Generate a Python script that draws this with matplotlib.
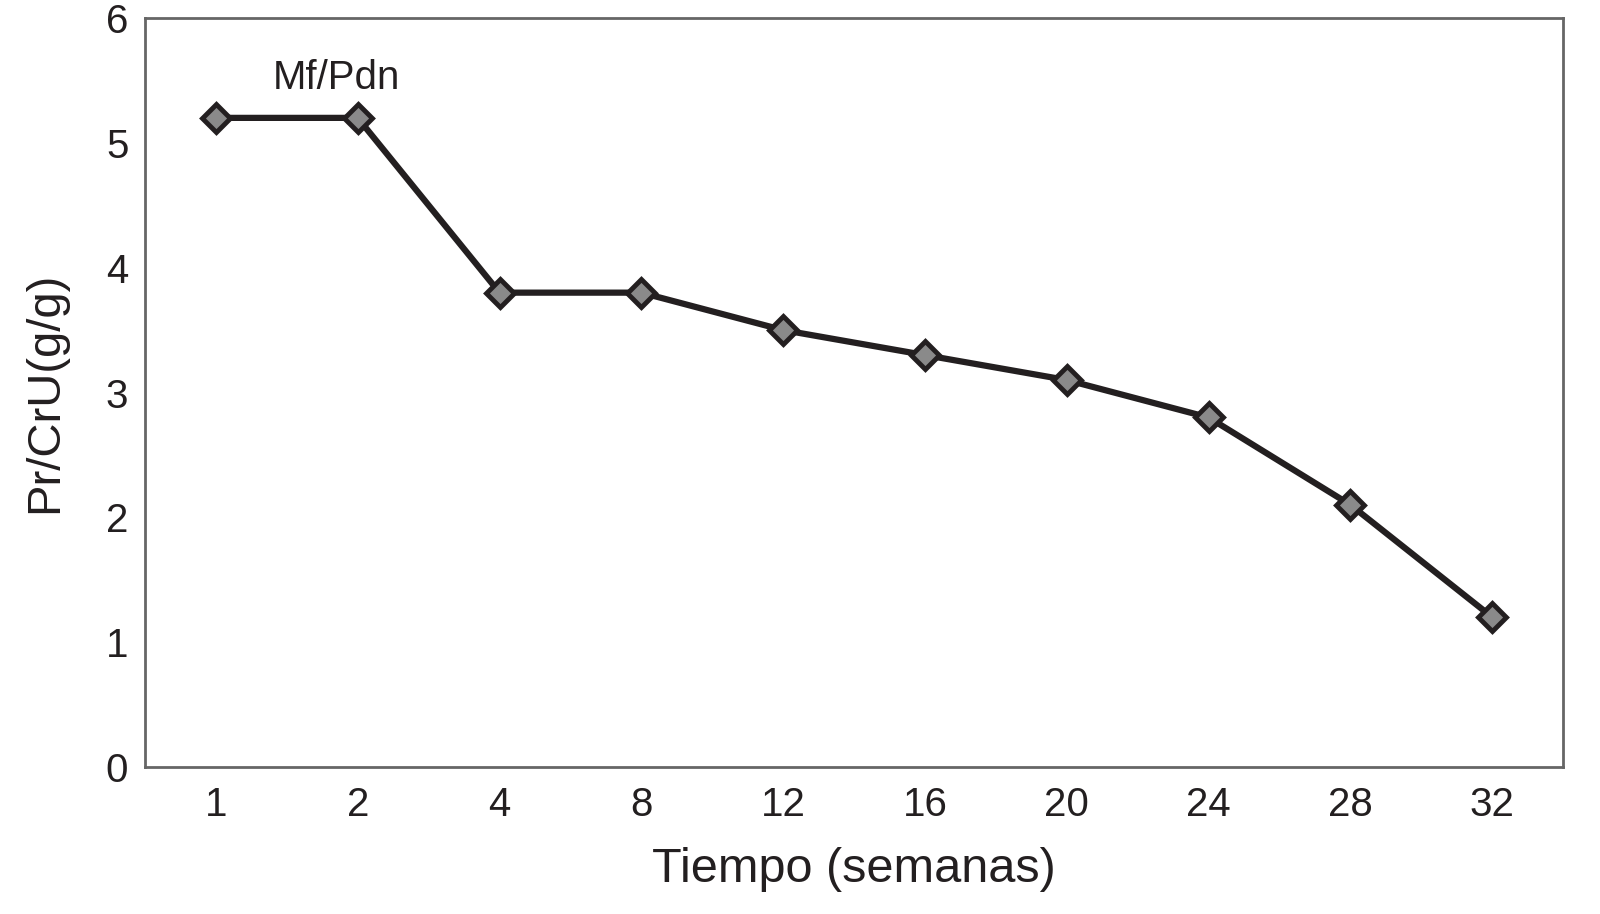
import matplotlib
matplotlib.use("Agg")
import matplotlib.pyplot as plt

weeks = ["1", "2", "4", "8", "12", "16", "20", "24", "28", "32"]
pr_cru = [5.2, 5.2, 3.8, 3.8, 3.5, 3.3, 3.1, 2.8, 2.1, 1.2]
y_ticks = [0, 1, 2, 3, 4, 5, 6]

plt.rcParams['font.family'] = ['Liberation Sans', 'DejaVu Sans']

fig = plt.figure(figsize=(16, 9.14), dpi=100)
ax = fig.add_axes([0.0906, 0.1608, 0.8864, 0.8195])

x = list(range(len(weeks)))
ax.plot(x, pr_cru, color='#231f20', linewidth=4.5, marker='D', markersize=14,
        markerfacecolor='#8a8a8a', markeredgecolor='#231f20', markeredgewidth=3.5,
        zorder=3)

ax.set_xlim(-0.5, len(weeks) - 0.5)
ax.set_ylim(0, 6)
ax.set_xticks(x)
ax.set_xticklabels(weeks)
ax.set_yticks(y_ticks)
ax.tick_params(axis='both', length=0, labelsize=29, colors='#231f20')
ax.tick_params(axis='x', pad=14)
ax.tick_params(axis='y', pad=12)

for s in ax.spines.values():
    s.set_color('#666666')
    s.set_linewidth(2)

ax.set_xlabel('Tiempo (semanas)', fontsize=35, color='#231f20', labelpad=16)
ax.set_ylabel('Pr/CrU(g/g)', fontsize=34, color='#231f20', labelpad=28)

ax.text(0.85, 5.52, 'Mf/Pdn', fontsize=29, color='#231f20', ha='center', va='center')

fig.savefig('out.png', dpi=100)
